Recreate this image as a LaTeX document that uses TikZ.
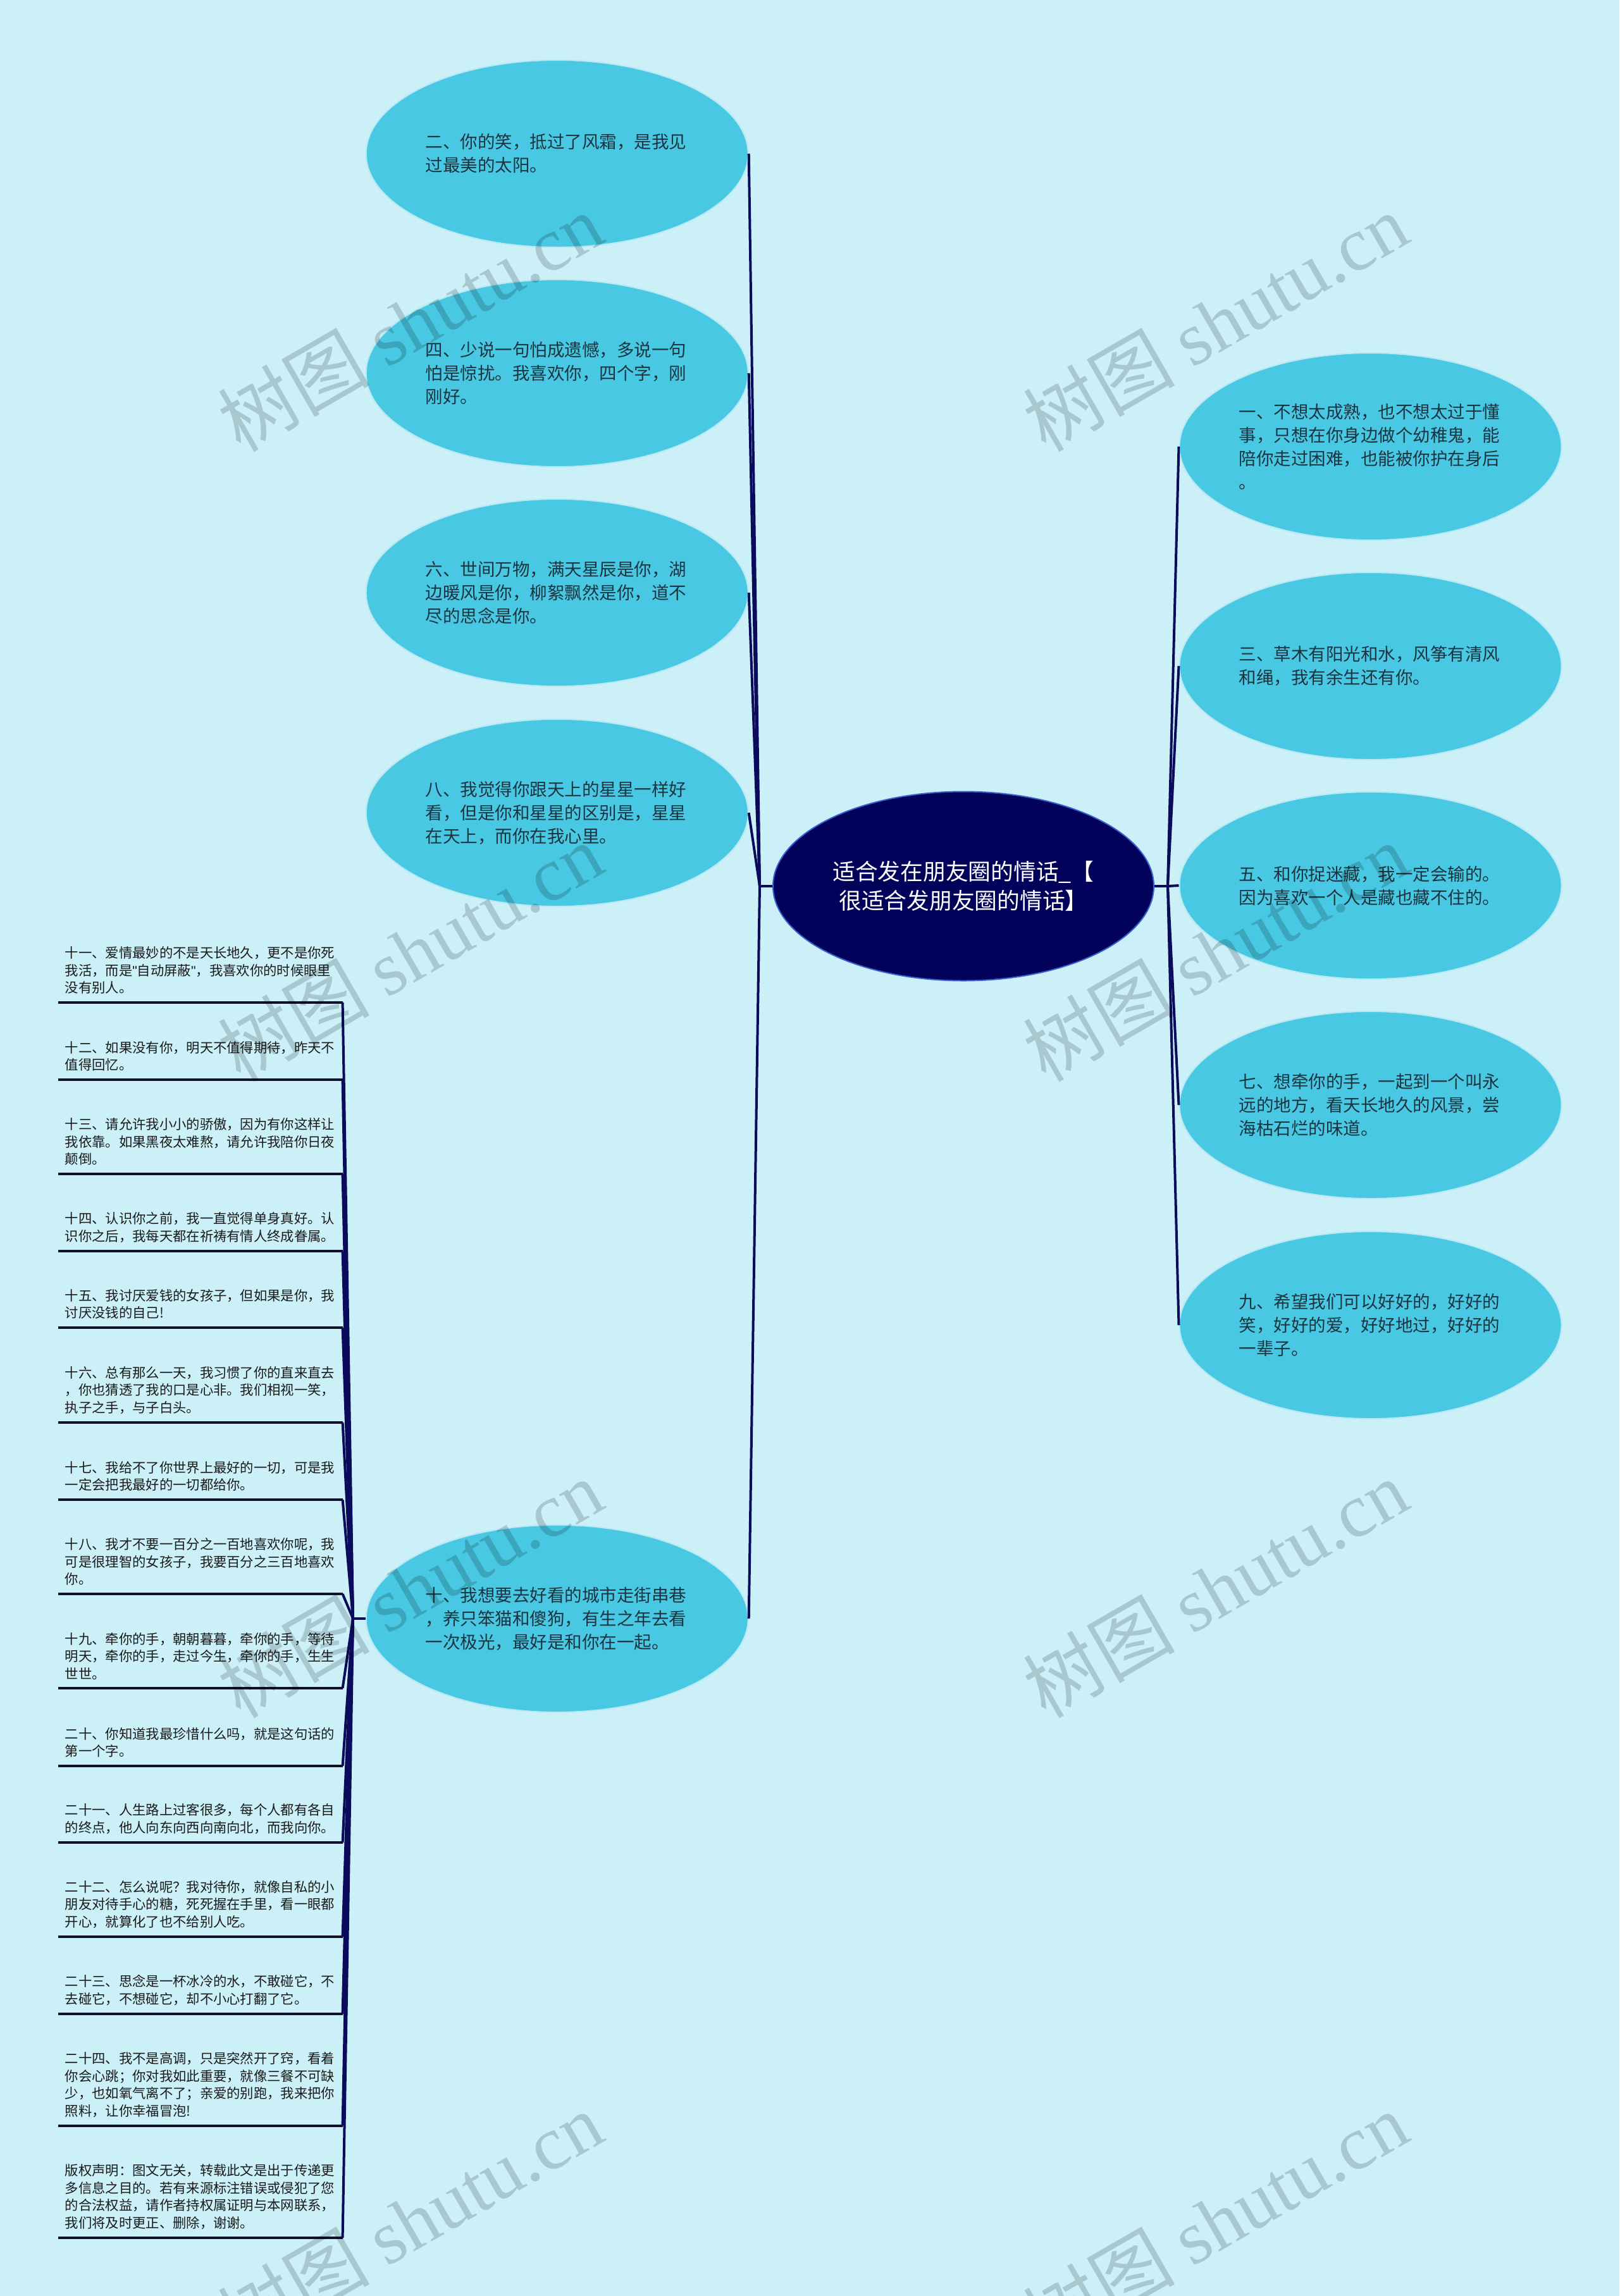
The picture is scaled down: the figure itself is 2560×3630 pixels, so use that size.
\documentclass[tikz,border=0pt]{standalone}
\usepackage{fontspec}
\setmainfont{Noto Sans CJK SC}
\newfontfamily\wmlatin{Liberation Serif}
\newfontfamily\latinsans{Liberation Sans}
\usetikzlibrary{shapes.geometric}
\definecolor{bgc}{HTML}{CBF0F8}
\definecolor{ellc}{HTML}{48C8E2}
\definecolor{navy}{HTML}{0B0B5C}
\definecolor{cenc}{HTML}{02025A}
\definecolor{cenedge}{HTML}{3A60D0}
\definecolor{txtc}{HTML}{1C3440}
\definecolor{ulc}{HTML}{101028}
\definecolor{listc}{HTML}{1A1A1A}
\begin{document}
\begin{tikzpicture}[x=0.25pt,y=-0.25pt,
  bubble/.style={ellipse, fill=ellc, draw=white!60!ellc, line width=0.5pt,
    minimum width=151pt, minimum height=74pt, inner sep=0pt,
    text width=104pt, align=left, text=txtc,
    font=\fontsize{6.875pt}{9.25pt}\selectfont},
  hub/.style={ellipse, fill=cenc, draw=cenedge, line width=0.5pt,
    minimum width=150.5pt, minimum height=74.75pt, inner sep=0pt,
    text=white, align=center, font=\fontsize{8.94pt}{11.6pt}\selectfont},
  litem/.style={anchor=south west, text width=107pt, inner xsep=2.5pt,
    inner ysep=3.2pt, align=left, text=listc,
    font=\fontsize{5.33pt}{6.875pt}\selectfont},
  link/.style={draw=navy, line width=1pt},
  uline/.style={draw=ulc, line width=0.9pt},
  wm/.style={rotate=30, text=black, opacity=0.17,
    font=\fontsize{30pt}{36pt}\selectfont}
]
\path[use as bounding box, fill=bgc] (0,0) rectangle (2560,3630);

% central node
\node[hub] (c) at (1523,1401) {适合发在朋友圈的情话\_【\\很适合发朋友圈的情话】};
\coordinate (J1) at (1201,1401);
\coordinate (J2) at (1846,1401);

% left bubbles
\node[bubble] (e2) at (880.7,243) {二、你的笑，抵过了风霜，是我见\\过最美的太阳。};
\node[bubble] (e4) at (880.7,590) {四、少说一句怕成遗憾，多说一句\\怕是惊扰。我喜欢你，四个字，刚\\刚好。};
\node[bubble] (e6) at (880.7,937) {六、世间万物，满天星辰是你，湖\\边暖风是你，柳絮飘然是你，道不\\尽的思念是你。};
\node[bubble] (e8) at (880.7,1285) {八、我觉得你跟天上的星星一样好\\看，但是你和星星的区别是，星星\\在天上，而你在我心里。};
\node[bubble] (e10) at (880.7,2559) {十、我想要去好看的城市走街串巷\\，养只笨猫和傻狗，有生之年去看\\一次极光，最好是和你在一起。};

% right bubbles
\node[bubble] (e1) at (2166.5,706) {一、不想太成熟，也不想太过于懂\\事，只想在你身边做个幼稚鬼，能\\陪你走过困难，也能被你护在身后\\。};
\node[bubble] (e3) at (2166.5,1053) {三、草木有阳光和水，风筝有清风\\和绳，我有余生还有你。};
\node[bubble] (e5) at (2166.5,1400) {五、和你捉迷藏，我一定会输的。\\因为喜欢一个人是藏也藏不住的。};
\node[bubble] (e7) at (2166.5,1747) {七、想牵你的手，一起到一个叫永\\远的地方，看天长地久的风景，尝\\海枯石烂的味道。};
\node[bubble] (e9) at (2166.5,2095) {九、希望我们可以好好的，好好的\\笑，好好的爱，好好地过，好好的\\一辈子。};

% main connectors
\draw[link] (c.west) -- (J1);
\draw[link] (c.east) -- (J2);
\foreach \n in {e2,e4,e6,e8,e10} \draw[link] (J1) -- (\n.east);
\foreach \n in {e1,e3,e5,e7,e9} \draw[link] (J2) -- (\n.west);

% list under node ten
\coordinate (J3) at (558,2559);
\draw[link] (e10.west) -- (J3);
\node[litem] (l11) at (92,1585) {十一、爱情最妙的不是天长地久，更不是你死\\我活，而是{\latinsans "}自动屏蔽{\latinsans "}，我喜欢你的时候眼里\\没有别人。};
\node[litem] (l12) at (92,1707) {十二、如果没有你，明天不值得期待，昨天不\\值得回忆。};
\node[litem] (l13) at (92,1856) {十三、请允许我小小的骄傲，因为有你这样让\\我依靠。如果黑夜太难熬，请允许我陪你日夜\\颠倒。};
\node[litem] (l14) at (92,1978) {十四、认识你之前，我一直觉得单身真好。认\\识你之后，我每天都在祈祷有情人终成眷属。};
\node[litem] (l15) at (92,2099) {十五、我讨厌爱钱的女孩子，但如果是你，我\\讨厌没钱的自己!};
\node[litem] (l16) at (92,2249) {十六、总有那么一天，我习惯了你的直来直去\\，你也猜透了我的口是心非。我们相视一笑，\\执子之手，与子白头。};
\node[litem] (l17) at (92,2371) {十七、我给不了你世界上最好的一切，可是我\\一定会把我最好的一切都给你。};
\node[litem] (l18) at (92,2520) {十八、我才不要一百分之一百地喜欢你呢，我\\可是很理智的女孩子，我要百分之三百地喜欢\\你。};
\node[litem] (l19) at (92,2669) {十九、牵你的手，朝朝暮暮，牵你的手，等待\\明天，牵你的手，走过今生，牵你的手，生生\\世世。};
\node[litem] (l20) at (92,2792) {二十、你知道我最珍惜什么吗，就是这句话的\\第一个字。};
\node[litem] (l21) at (92,2913) {二十一、人生路上过客很多，每个人都有各自\\的终点，他人向东向西向南向北，而我向你。};
\node[litem] (l22) at (92,3062) {二十二、怎么说呢？我对待你，就像自私的小\\朋友对待手心的糖，死死握在手里，看一眼都\\开心，就算化了也不给别人吃。};
\node[litem] (l23) at (92,3184) {二十三、思念是一杯冰冷的水，不敢碰它，不\\去碰它，不想碰它，却不小心打翻了它。};
\node[litem] (l24) at (92,3361) {二十四、我不是高调，只是突然开了窍，看着\\你会心跳；你对我如此重要，就像三餐不可缺\\少，也如氧气离不了；亲爱的别跑，我来把你\\照料，让你幸福冒泡!};
\node[litem] (l25) at (92,3538) {版权声明：图文无关，转载此文是出于传递更\\多信息之目的。若有来源标注错误或侵犯了您\\的合法权益，请作者持权属证明与本网联系，\\我们将及时更正、删除，谢谢。};
\foreach \n in {l11,l12,l13,l14,l15,l16,l17,l18,l19,l20,l21,l22,l23,l24,l25}{
  \draw[uline] (\n.south west) -- (\n.south east);
  \draw[link] (\n.south east) -- (J3);
}

% watermarks
\node[wm] (w1) at (648,509) {树图 {\wmlatin shutu.cn}};
\node[wm] (w2) at (1921,509) {树图 {\wmlatin shutu.cn}};
\node[wm] (w3) at (648,1505) {树图 {\wmlatin shutu.cn}};
\node[wm] (w4) at (1921,1505) {树图 {\wmlatin shutu.cn}};
\node[wm] (w5) at (648,2511) {树图 {\wmlatin shutu.cn}};
\node[wm] (w6) at (1921,2511) {树图 {\wmlatin shutu.cn}};
\node[wm] (w7) at (648,3511) {树图 {\wmlatin shutu.cn}};
\node[wm] (w8) at (1921,3511) {树图 {\wmlatin shutu.cn}};
\end{tikzpicture}
\end{document}
